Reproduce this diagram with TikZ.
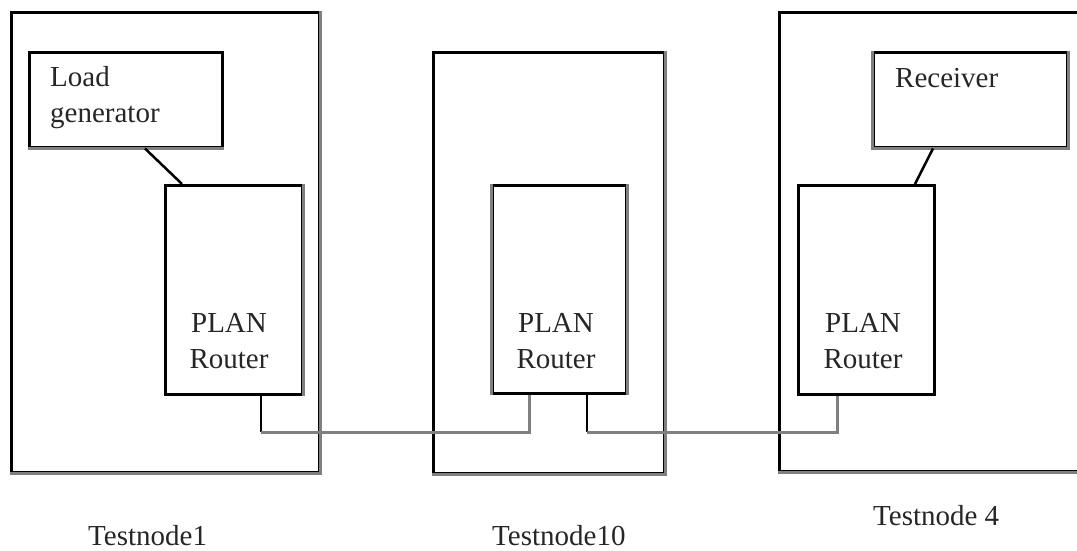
\documentclass[tikz,border=0pt]{standalone}
\usepackage{fontspec}
\setmainfont{Liberation Serif}
\definecolor{shade}{gray}{0.5}
\begin{document}
\begin{tikzpicture}[x=1pt,y=-1pt,
  box/.style={draw=black,line width=2.5pt,inner sep=0pt,anchor=north west},
  blk/.style={draw=black,line width=2.5pt},
  gry/.style={draw=shade,line width=3pt},
  txt/.style={font=\fontsize{29}{36}\selectfont,inner sep=0pt,text=black!85}]
\useasboundingbox (0,0) rectangle (1077,550);
% outer test nodes
\node[box,minimum width=308pt,minimum height=460pt] (tn1) at (10,11) {};
\node[box,minimum width=231pt,minimum height=421pt] (tn2) at (432,51) {};
\node[box,minimum width=310pt,minimum height=459pt] (tn3) at (778,11) {};
% inner boxes
\node[box,minimum width=193pt,minimum height=95pt] (lg) at (28,51) {};
\node[box,minimum width=194pt,minimum height=95pt] (rc) at (872,51) {};
\node[box,minimum width=137pt,minimum height=209pt] (r1) at (164,184) {};
\node[box,minimum width=134pt,minimum height=208pt] (r2) at (491,184) {};
\node[box,minimum width=136pt,minimum height=209pt] (r3) at (797,184) {};
% shaded edges
\draw[gry] (tn1.north east) -- (tn1.south east) -- (tn1.south west);
\draw[gry] (tn2.north east) -- (tn2.south east) -- (tn2.south west);
\draw[gry] (tn3.south east) -- (tn3.south west);
\draw[gry] (lg.south east) -- (lg.south west);
\draw[gry] (rc.north west) -- (rc.south west) -- (rc.south east) -- (rc.north east);
\draw[gry] (r1.north east) -- (r1.south east);
\draw[gry] (r2.north west) -- (r2.south west);
\draw[gry] (r2.north east) -- (r2.south east);
% texts
\node[txt,anchor=north west,align=left] (lgt) at (50,66) {Load\\generator};
\node[txt,anchor=base west] (rct) at (895,87) {Receiver};
\node[txt,anchor=north,align=center] (r1t) at (229,313) {PLAN\\Router};
\node[txt,anchor=north,align=center] (r2t) at (556,313) {PLAN\\Router};
\node[txt,anchor=north,align=center] (r3t) at (863,313) {PLAN\\Router};
\node[txt,anchor=base west] (l1) at (88,545) {Testnode1};
\node[txt,anchor=base west] (l2) at (492,545) {Testnode10};
\node[txt,anchor=base west] (l3) at (873,525) {Testnode 4};
% connectors
\draw[blk] ([xshift=117pt]lg.south west) -- ([xshift=18pt]r1.north west);
\draw[blk] ([xshift=61pt]rc.south west) -- ([xshift=118pt]r3.north west);
\coordinate (s1) at (261,432);
\coordinate (s2a) at (529,432);
\coordinate (s2b) at (587,432);
\coordinate (s3) at (837,432);
\draw[blk] (r1.south -| s1) -- (s1);
\draw[gry] (s1) -- (s2a) -- (r2.south -| s2a);
\draw[blk] (r2.south -| s2b) -- (s2b);
\draw[gry] (s2b) -- (s3) -- (r3.south -| s3);
\end{tikzpicture}
\end{document}
